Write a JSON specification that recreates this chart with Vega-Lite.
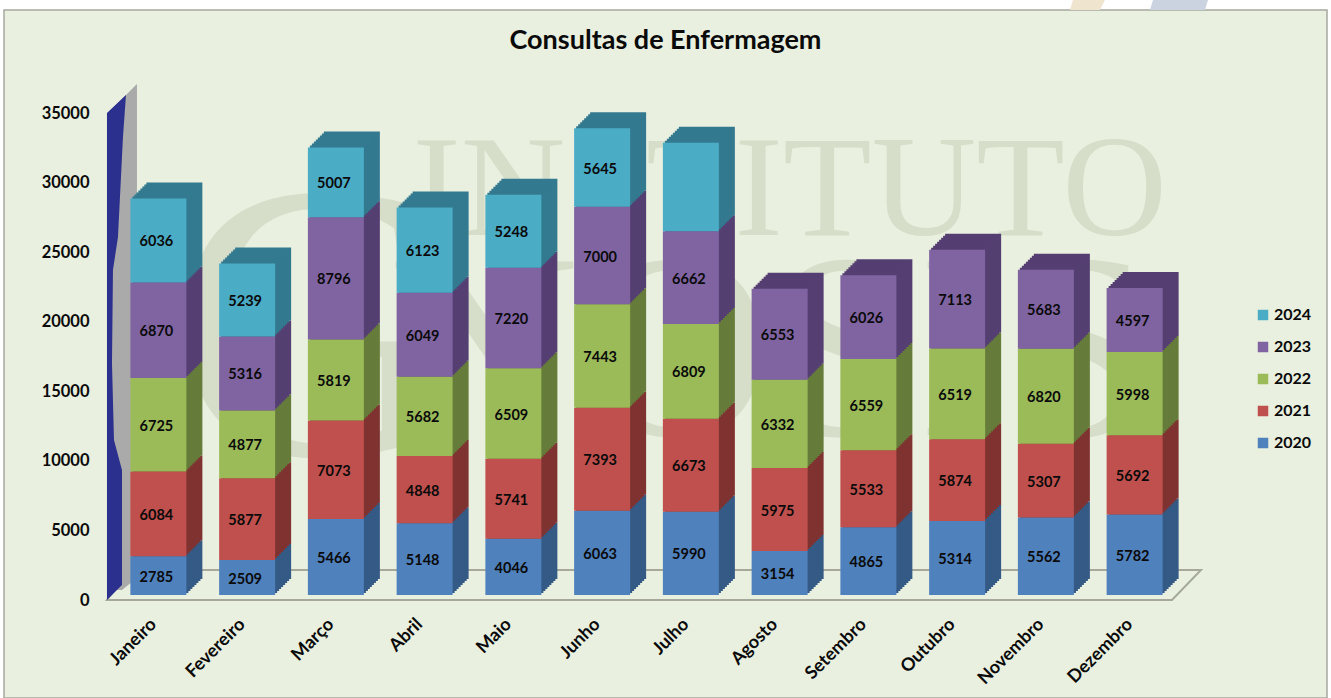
{"$schema":"https://vega.github.io/schema/vega-lite/v6.json","width":1323,"height":688,"autosize":"none","padding":{"left":4,"top":10,"right":4,"bottom":0},"background":"white","view":{"fill":"#E9F0DF","stroke":"#A6A89E","strokeWidth":1.5},"title":{"text":"Consultas de Enfermagem","offset":-55,"fontSize":27,"font":"Lato","fontWeight":"bold","color":"#0A0A0A","anchor":"middle"},"data":{"values":[
{"mes":"Janeiro","ano":"2020","v":2785},{"mes":"Janeiro","ano":"2021","v":6084},{"mes":"Janeiro","ano":"2022","v":6725},{"mes":"Janeiro","ano":"2023","v":6870},{"mes":"Janeiro","ano":"2024","v":6036},
{"mes":"Fevereiro","ano":"2020","v":2509},{"mes":"Fevereiro","ano":"2021","v":5877},{"mes":"Fevereiro","ano":"2022","v":4877},{"mes":"Fevereiro","ano":"2023","v":5316},{"mes":"Fevereiro","ano":"2024","v":5239},
{"mes":"Março","ano":"2020","v":5466},{"mes":"Março","ano":"2021","v":7073},{"mes":"Março","ano":"2022","v":5819},{"mes":"Março","ano":"2023","v":8796},{"mes":"Março","ano":"2024","v":5007},
{"mes":"Abril","ano":"2020","v":5148},{"mes":"Abril","ano":"2021","v":4848},{"mes":"Abril","ano":"2022","v":5682},{"mes":"Abril","ano":"2023","v":6049},{"mes":"Abril","ano":"2024","v":6123},
{"mes":"Maio","ano":"2020","v":4046},{"mes":"Maio","ano":"2021","v":5741},{"mes":"Maio","ano":"2022","v":6509},{"mes":"Maio","ano":"2023","v":7220},{"mes":"Maio","ano":"2024","v":5248},
{"mes":"Junho","ano":"2020","v":6063},{"mes":"Junho","ano":"2021","v":7393},{"mes":"Junho","ano":"2022","v":7443},{"mes":"Junho","ano":"2023","v":7000},{"mes":"Junho","ano":"2024","v":5645},
{"mes":"Julho","ano":"2020","v":5990},{"mes":"Julho","ano":"2021","v":6673},{"mes":"Julho","ano":"2022","v":6809},{"mes":"Julho","ano":"2023","v":6662},{"mes":"Julho","ano":"2024","v":6360},
{"mes":"Agosto","ano":"2020","v":3154},{"mes":"Agosto","ano":"2021","v":5975},{"mes":"Agosto","ano":"2022","v":6332},{"mes":"Agosto","ano":"2023","v":6553},
{"mes":"Setembro","ano":"2020","v":4865},{"mes":"Setembro","ano":"2021","v":5533},{"mes":"Setembro","ano":"2022","v":6559},{"mes":"Setembro","ano":"2023","v":6026},
{"mes":"Outubro","ano":"2020","v":5314},{"mes":"Outubro","ano":"2021","v":5874},{"mes":"Outubro","ano":"2022","v":6519},{"mes":"Outubro","ano":"2023","v":7113},
{"mes":"Novembro","ano":"2020","v":5562},{"mes":"Novembro","ano":"2021","v":5307},{"mes":"Novembro","ano":"2022","v":6820},{"mes":"Novembro","ano":"2023","v":5683},
{"mes":"Dezembro","ano":"2020","v":5782},{"mes":"Dezembro","ano":"2021","v":5692},{"mes":"Dezembro","ano":"2022","v":5998},{"mes":"Dezembro","ano":"2023","v":4597}
]},
"encoding":{
"x":{"field":"mes","type":"nominal","title":null,"scale":{"domain":["Janeiro","Fevereiro","Março","Abril","Maio","Junho","Julho","Agosto","Setembro","Outubro","Novembro","Dezembro"],"range":[103,1168],"paddingInner":0,"paddingOuter":0},"axis":{"orient":"bottom","offset":-83,"labelAngle":-45,"labelOffset":-4,"domain":false,"ticks":false,"labelPadding":0,"labelFont":"Lato","labelFontWeight":"bold","labelFontSize":18,"labelColor":"#0A0A0A"}},
"y":{"field":"v","type":"quantitative","stack":"zero","title":null,"scale":{"domain":[0,35000],"range":[590,103],"nice":false,"zero":true},"axis":{"orient":"left","offset":-85,"values":[0,5000,10000,15000,20000,25000,30000,35000],"format":"d","grid":false,"domain":false,"ticks":false,"labelPadding":0,"labelFont":"Lato","labelFontWeight":"bold","labelFontSize":16.5,"labelColor":"#0A0A0A"}}
},
"resolve":{"scale":{"color":"independent"}},
"layer":[
{"data":{"values":[{"mes":"Janeiro","v":0}]},"mark":{"type":"point","filled":true,"size":4,"opacity":1,"fill":"#EFE5CF","strokeWidth":0,"shape":"M921.6 -600L953.6 -600L948.6 -590L918.6 -590Z"},"encoding":{"y":{"field":"v","type":"quantitative","stack":null}}},
{"data":{"values":[{"mes":"Janeiro","v":0}]},"mark":{"type":"point","filled":true,"size":4,"opacity":1,"fill":"#CBD3E0","strokeWidth":0,"shape":"M1001.6 -600L1056.6 -600L1053.6 -590L998.6 -590Z"},"encoding":{"y":{"field":"v","type":"quantitative","stack":null}}},
{"data":{"values":[{"mes":"Agosto","v":29400,"texto":"INSTITUTO"}]},"mark":{"type":"text","font":"Liberation Serif","fontSize":145,"color":"#D6DECA","align":"center","baseline":"middle","xOffset":17},"encoding":{"y":{"field":"v","type":"quantitative","stack":null},"text":{"field":"texto","type":"nominal"}}},
{"data":{"values":[{"mes":"Março","v":19000,"texto":"G"}]},"mark":{"type":"text","font":"Liberation Serif","fontSize":395,"color":"#D6DECA","align":"center","baseline":"middle","xOffset":-15},"encoding":{"y":{"field":"v","type":"quantitative","stack":null},"text":{"field":"texto","type":"nominal"}}},
{"data":{"values":[{"mes":"Julho","v":17600,"texto":"NOSIS"}]},"mark":{"type":"text","font":"Liberation Serif","fontSize":265,"color":"#D6DECA","align":"center","baseline":"middle","xOffset":87},"encoding":{"y":{"field":"v","type":"quantitative","stack":null},"text":{"field":"texto","type":"nominal"}}},
{"data":{"values":[{"mes":"Janeiro","v":0}]},"mark":{"type":"point","filled":false,"size":4,"opacity":1,"stroke":"#A5A89A","strokeWidth":2,"shape":"M-44.4 0L1020.6 0L1049.6 -30L-21.4 -30Z"},"encoding":{"y":{"field":"v","type":"quantitative","stack":null}}},
{"data":{"values":[{"mes":"Janeiro","v":0}]},"mark":{"type":"point","filled":true,"size":4,"opacity":1,"fill":"#AAAAAA","strokeWidth":0,"shape":"M-25.4 -505L-14.4 -516L-14.4 -22L-29.4 -10L-43.4 -10L-43.4 -487Z"},"encoding":{"y":{"field":"v","type":"quantitative","stack":null}}},
{"data":{"values":[{"mes":"Janeiro","v":0}]},"mark":{"type":"point","filled":true,"size":4,"opacity":1,"fill":"#2B2F8E","strokeWidth":0,"shape":"M-44.4 0L-44.4 -487L-25.4 -505L-28.4 -463L-33.4 -363L-38.4 -330L-39.4 -237L-37.4 -160L-29.4 -130L-29.4 -15Z"},"encoding":{"y":{"field":"v","type":"quantitative","stack":null}}},
{"mark":{"type":"bar","size":56,"xOffset":23,"yOffset":-21,"y2Offset":-21},"encoding":{"order":{"field":"ano","sort":"ascending"},"color":{"field":"ano","type":"nominal","legend":null,"scale":{"domain":["2024","2023","2022","2021","2020"],"range":["#337A90","#553F72","#667C3A","#7F3331","#345A85"]}}}},
{"mark":{"type":"bar","size":56,"xOffset":21,"yOffset":-19,"y2Offset":-19},"encoding":{"order":{"field":"ano","sort":"ascending"},"color":{"field":"ano","type":"nominal","legend":null,"scale":{"domain":["2024","2023","2022","2021","2020"],"range":["#337A90","#553F72","#667C3A","#7F3331","#345A85"]}}}},
{"mark":{"type":"bar","size":56,"xOffset":19,"yOffset":-17,"y2Offset":-17},"encoding":{"order":{"field":"ano","sort":"ascending"},"color":{"field":"ano","type":"nominal","legend":null,"scale":{"domain":["2024","2023","2022","2021","2020"],"range":["#337A90","#553F72","#667C3A","#7F3331","#345A85"]}}}},
{"mark":{"type":"bar","size":56,"xOffset":17,"yOffset":-15,"y2Offset":-15},"encoding":{"order":{"field":"ano","sort":"ascending"},"color":{"field":"ano","type":"nominal","legend":null,"scale":{"domain":["2024","2023","2022","2021","2020"],"range":["#337A90","#553F72","#667C3A","#7F3331","#345A85"]}}}},
{"mark":{"type":"bar","size":56,"xOffset":15,"yOffset":-13,"y2Offset":-13},"encoding":{"order":{"field":"ano","sort":"ascending"},"color":{"field":"ano","type":"nominal","legend":null,"scale":{"domain":["2024","2023","2022","2021","2020"],"range":["#337A90","#553F72","#667C3A","#7F3331","#345A85"]}}}},
{"mark":{"type":"bar","size":56,"xOffset":13,"yOffset":-11,"y2Offset":-11},"encoding":{"order":{"field":"ano","sort":"ascending"},"color":{"field":"ano","type":"nominal","legend":null,"scale":{"domain":["2024","2023","2022","2021","2020"],"range":["#337A90","#553F72","#667C3A","#7F3331","#345A85"]}}}},
{"mark":{"type":"bar","size":56,"xOffset":11,"yOffset":-9,"y2Offset":-9},"encoding":{"order":{"field":"ano","sort":"ascending"},"color":{"field":"ano","type":"nominal","legend":null,"scale":{"domain":["2024","2023","2022","2021","2020"],"range":["#337A90","#553F72","#667C3A","#7F3331","#345A85"]}}}},
{"mark":{"type":"bar","size":56,"xOffset":9,"yOffset":-7,"y2Offset":-7},"encoding":{"order":{"field":"ano","sort":"ascending"},"color":{"field":"ano","type":"nominal","legend":null,"scale":{"domain":["2024","2023","2022","2021","2020"],"range":["#337A90","#553F72","#667C3A","#7F3331","#345A85"]}}}},
{"mark":{"type":"bar","size":56,"xOffset":7,"yOffset":-5,"y2Offset":-5},"encoding":{"order":{"field":"ano","sort":"ascending"},"color":{"field":"ano","type":"nominal","scale":{"domain":["2024","2023","2022","2021","2020"],"range":["#4BACC6","#8064A2","#9BBB59","#C0504D","#4F81BD"]},"legend":{"orient":"none","legendX":1251,"legendY":297,"title":null,"symbolType":"square","symbolSize":110,"labelFont":"Lato","labelFontWeight":"bold","labelFontSize":16,"labelColor":"#0A0A0A","rowPadding":16,"labelOffset":3}}}},
{"transform":[{"filter":"datum.mes !== 'Julho' || datum.ano !== '2024'"}],"mark":{"type":"text","font":"Lato","fontWeight":"bold","fontSize":14.5,"color":"#0A0A0A","xOffset":5,"yOffset":-3},"encoding":{"y":{"field":"v","type":"quantitative","stack":"zero","bandPosition":0.5},"detail":{"field":"ano"},"order":{"field":"ano","sort":"ascending"},"text":{"field":"v","type":"quantitative","format":"d"}}}
]}
